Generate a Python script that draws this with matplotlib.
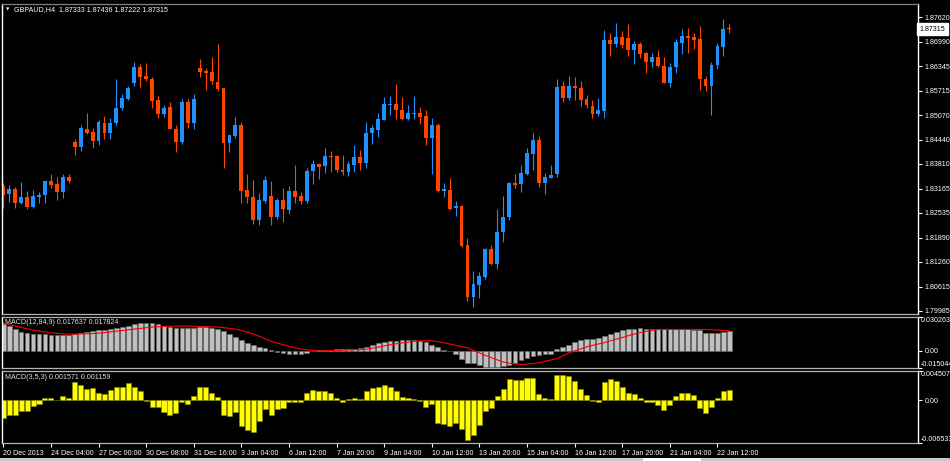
import matplotlib
matplotlib.use('Agg')
import matplotlib.pyplot as plt
import numpy as np
from matplotlib.patches import Rectangle

# GBPAUD H4 candles
opens = [1.8324, 1.8303, 1.8316, 1.8279, 1.8295, 1.8269, 1.8296, 1.8300, 1.8336, 1.8329,
         1.8309, 1.8348, 1.8437, 1.8426, 1.8472, 1.8463, 1.8441, 1.8488, 1.8460, 1.8488,
         1.8527, 1.8549, 1.8592, 1.8633, 1.8609, 1.8601, 1.8547, 1.8511, 1.8529, 1.8472,
         1.8437, 1.8543, 1.8488, 1.8629, 1.8622, 1.8620, 1.8594, 1.8577, 1.8436, 1.8453,
         1.8482, 1.8312, 1.8295, 1.8235, 1.8284, 1.8297, 1.8242, 1.8286, 1.8261, 1.8310,
         1.8297, 1.8284, 1.8362, 1.8381, 1.8376, 1.8402, 1.8401, 1.8366, 1.8360, 1.8379,
         1.8399, 1.8384, 1.8460, 1.8469, 1.8495, 1.8534, 1.8537, 1.8521, 1.8497, 1.8510,
         1.8512, 1.8505, 1.8449, 1.8482, 1.8311, 1.8313, 1.8266, 1.8272, 1.8170, 1.8034,
         1.8067, 1.8086, 1.8159, 1.8121, 1.8203, 1.8242, 1.8330, 1.8328, 1.8355, 1.8407,
         1.8444, 1.8332, 1.8345, 1.8354, 1.8583, 1.8553, 1.8583, 1.8578, 1.8549, 1.8532,
         1.8511, 1.8519, 1.8703, 1.8693, 1.8710, 1.8707, 1.8677, 1.8692, 1.8668, 1.8645,
         1.8659, 1.8635, 1.8592, 1.8633, 1.8696, 1.8713, 1.8711, 1.8705, 1.8602, 1.8584,
         1.8638, 1.8686, 1.87333]
highs = [1.8330, 1.8326, 1.8321, 1.8334, 1.8310, 1.8313, 1.8309, 1.8336, 1.8354, 1.8346,
         1.8354, 1.8354, 1.8445, 1.8482, 1.8512, 1.8475, 1.8495, 1.8505, 1.8499, 1.8602,
         1.8562, 1.8583, 1.8646, 1.8640, 1.8644, 1.8608, 1.8557, 1.8534, 1.8541, 1.8482,
         1.8550, 1.8549, 1.8563, 1.8653, 1.8629, 1.8659, 1.8693, 1.8579, 1.8456, 1.8503,
         1.8490, 1.8354, 1.8339, 1.8305, 1.8349, 1.8337, 1.8291, 1.8318, 1.8323, 1.8378,
         1.8308, 1.8369, 1.8391, 1.8384, 1.8423, 1.8415, 1.8404, 1.8404, 1.8388, 1.8430,
         1.8417, 1.8491, 1.8482, 1.8512, 1.8554, 1.8557, 1.8589, 1.8554, 1.8534, 1.8557,
         1.8528, 1.8521, 1.8500, 1.8486, 1.8330, 1.8343, 1.8284, 1.8273, 1.8189, 1.8102,
         1.8099, 1.8161, 1.8170, 1.8264, 1.8297, 1.8333, 1.8355, 1.8378, 1.8421, 1.8461,
         1.8453, 1.8356, 1.8378, 1.8601, 1.8596, 1.8609, 1.8607, 1.8596, 1.8560, 1.8547,
         1.8552, 1.8729, 1.8720, 1.8746, 1.8726, 1.8744, 1.8700, 1.8697, 1.8671, 1.8670,
         1.8677, 1.8658, 1.8642, 1.8705, 1.8732, 1.8733, 1.8722, 1.8739, 1.8610, 1.8645,
         1.8694, 1.8758, 1.87436]
lows = [1.8265, 1.8283, 1.8267, 1.8276, 1.8264, 1.8266, 1.8278, 1.8278, 1.8319, 1.8287,
        1.8293, 1.8332, 1.8405, 1.8414, 1.8458, 1.8423, 1.8429, 1.8445, 1.8446, 1.8482,
        1.8521, 1.8547, 1.8584, 1.8582, 1.8596, 1.8527, 1.8501, 1.8504, 1.8471, 1.8413,
        1.8433, 1.8473, 1.8472, 1.8608, 1.8573, 1.8589, 1.8571, 1.8371, 1.8413, 1.8449,
        1.8278, 1.8278, 1.8225, 1.8222, 1.8278, 1.8222, 1.8238, 1.8231, 1.8251, 1.8278,
        1.8277, 1.8280, 1.8329, 1.8342, 1.8358, 1.8360, 1.8361, 1.8352, 1.8349, 1.8361,
        1.8365, 1.8369, 1.8433, 1.8450, 1.8495, 1.8508, 1.8498, 1.8495, 1.8495, 1.8498,
        1.8485, 1.8430, 1.8354, 1.8307, 1.8294, 1.8261, 1.8246, 1.8166, 1.8025, 1.8010,
        1.8031, 1.8081, 1.8118, 1.8108, 1.8179, 1.8235, 1.8319, 1.8308, 1.8352, 1.8365,
        1.8322, 1.8302, 1.8343, 1.8348, 1.8543, 1.8547, 1.8547, 1.8531, 1.8525, 1.8501,
        1.8505, 1.8501, 1.8661, 1.8686, 1.8683, 1.8662, 1.8641, 1.8657, 1.8616, 1.8634,
        1.8634, 1.8592, 1.8582, 1.8616, 1.8666, 1.8668, 1.8680, 1.8573, 1.8570, 1.8508,
        1.8628, 1.8662, 1.87222]
closes = [1.8300, 1.8316, 1.8280, 1.8295, 1.8269, 1.8297, 1.8300, 1.8336, 1.8326, 1.8309,
          1.8348, 1.8336, 1.8426, 1.8473, 1.8462, 1.8441, 1.8489, 1.8460, 1.8488, 1.8526,
          1.8552, 1.8579, 1.8634, 1.8608, 1.8601, 1.8544, 1.8511, 1.8525, 1.8471, 1.8437,
          1.8543, 1.8488, 1.8550, 1.8621, 1.8618, 1.8596, 1.8576, 1.8436, 1.8456, 1.8482,
          1.8311, 1.8296, 1.8235, 1.8286, 1.8339, 1.8242, 1.8286, 1.8264, 1.8310, 1.8296,
          1.8284, 1.8362, 1.8381, 1.8373, 1.8401, 1.8399, 1.8365, 1.8360, 1.8381, 1.8398,
          1.8384, 1.8461, 1.8473, 1.8497, 1.8537, 1.8537, 1.8521, 1.8497, 1.8513, 1.8513,
          1.8504, 1.8449, 1.8481, 1.8310, 1.8316, 1.8264, 1.8271, 1.8167, 1.8034, 1.8069,
          1.8089, 1.8159, 1.8121, 1.8205, 1.8244, 1.8330, 1.8326, 1.8356, 1.8409, 1.8444,
          1.8332, 1.8346, 1.8353, 1.8580, 1.8553, 1.8583, 1.8578, 1.8547, 1.8534, 1.8511,
          1.8521, 1.8703, 1.8693, 1.8710, 1.8690, 1.8677, 1.8692, 1.8667, 1.8645, 1.8659,
          1.8635, 1.8592, 1.8633, 1.8698, 1.8713, 1.8707, 1.8703, 1.8602, 1.8584, 1.8638,
          1.8687, 1.8732, 1.87315]

# MACD(12,84,9): histogram and signal
macd_slow = [0.0235, 0.0217, 0.0190, 0.0169, 0.0157, 0.0149, 0.0149, 0.0146, 0.0140, 0.0140,
             0.0140, 0.0140, 0.0149, 0.0157, 0.0169, 0.0175, 0.0181, 0.0184, 0.0190, 0.0199,
             0.0208, 0.0223, 0.0238, 0.0244, 0.0247, 0.0244, 0.0235, 0.0223, 0.0211, 0.0205,
             0.0205, 0.0205, 0.0205, 0.0208, 0.0208, 0.0205, 0.0193, 0.0175, 0.0154, 0.0125,
             0.0098, 0.0071, 0.0050, 0.0039, 0.0024, 0.0009, -0.0009, -0.0021, -0.0024, -0.0024,
             -0.0024, -0.0015, 0.0001, 0.0009, 0.0012, 0.0012, 0.0015, 0.0015, 0.0018, 0.0021,
             0.0027, 0.0039, 0.0056, 0.0071, 0.0083, 0.0089, 0.0092, 0.0095, 0.0095, 0.0095,
             0.0089, 0.0077, 0.0056, 0.0033, 0.0012, -0.0002, -0.0030, -0.0068, -0.0104,
             -0.0104, -0.0128, -0.0143, -0.0143, -0.0143, -0.0137, -0.0122, -0.0104, -0.0083, -0.0062,
             -0.0045, -0.0033, -0.0030, -0.0030,
             0.0021, 0.0036, 0.0056, 0.0080, 0.0098, 0.0104, 0.0107, 0.0116, 0.0131, 0.0154,
             0.0169, 0.0184, 0.0190, 0.0196, 0.0199, 0.0193, 0.0190, 0.0190, 0.0190, 0.0190,
             0.0190, 0.0190, 0.0190, 0.0187, 0.0181, 0.0163, 0.0163, 0.0163, 0.0169, 0.017637]
signal_slow = [0.0244, 0.0232, 0.0220, 0.0208, 0.0196, 0.0184, 0.0176, 0.0168, 0.0161, 0.0155,
               0.0151, 0.0149, 0.0149, 0.0150, 0.0152, 0.0154, 0.0157, 0.0162, 0.0168, 0.0175,
               0.0181, 0.0187, 0.0193, 0.0199, 0.0205, 0.0211, 0.0214, 0.0217, 0.0219, 0.0220,
               0.0220, 0.0220, 0.0219, 0.0217, 0.0215, 0.0213, 0.0211, 0.0206, 0.0200, 0.0193,
               0.0180, 0.0166, 0.0151, 0.0130, 0.0108, 0.0086, 0.0070, 0.0055, 0.0041, 0.0029,
               0.0018, 0.0010, 0.0004, 0.0000, 0.0001, 0.0003, 0.0005, 0.0007, 0.0009, 0.0011,
               0.0013, 0.0015, 0.0024, 0.0034, 0.0045, 0.0054, 0.0063, 0.0071, 0.0078, 0.0084,
               0.0089, 0.0090, 0.0089, 0.0082, 0.0072, 0.0062, 0.0050, 0.0039, 0.0027, 0.0005,
               -0.0017, -0.0039, -0.0059, -0.0079, -0.0098, -0.0107, -0.0114, -0.0119, -0.0116, -0.0110,
               -0.0104, -0.0092, -0.0080, -0.0068, -0.0043, -0.0018, 0.0000, 0.0018, 0.0036, 0.0049,
               0.0062, 0.0074, 0.0089, 0.0104, 0.0119, 0.0134, 0.0149, 0.0163, 0.0172, 0.0181,
               0.0190, 0.0190, 0.0190, 0.0190, 0.0190, 0.0190, 0.0190, 0.0190, 0.0189, 0.0187,
               0.0185, 0.0182, 0.017824]

# MACD(3,5,3) histogram
macd_fast = [-0.0027, -0.0022, -0.0023, -0.0016, -0.0016, -0.0009, -0.0005, 0.0004, 0.0004, 0.0001,
             0.0006, 0.0004, 0.0028, 0.0024, 0.0017, 0.0019, 0.0011, 0.0010, 0.0016, 0.0020,
             0.0021, 0.0027, 0.0021, 0.0015, -0.0001, -0.0010, -0.0010, -0.0018, -0.0022, -0.0020,
             -0.0002, -0.0005, 0.0006, 0.0021, 0.0021, 0.0012, 0.0005, -0.0023, -0.0024, -0.0018,
             -0.0040, -0.0045, -0.0048, -0.0032, -0.0013, -0.0022, -0.0013, -0.0012, -0.0003, -0.0002,
             -0.0002, 0.0011, 0.0016, 0.0015, 0.0015, 0.0012, 0.0003, -0.0002, 0.0002, 0.0003,
             0.0002, 0.0015, 0.0019, 0.0021, 0.0024, 0.0021, 0.0015, 0.0005, 0.0004, 0.0002,
             -0.0001, -0.0010, -0.0005, -0.0034, -0.0036, -0.0039, -0.0034, -0.0044, -0.0061,
             -0.0053, -0.0038, -0.0016, -0.0011, 0.0006, 0.0018, 0.0033, 0.0032, 0.0032, 0.0034,
             0.0035, 0.0010, 0.0003, 0.0002, 0.0039, 0.0039, 0.0038, 0.0030, 0.0018, 0.0008,
             -0.0001, -0.0002, 0.0028, 0.0033, 0.0029, 0.0021, 0.0012, 0.0010, 0.0003, -0.0003,
             -0.0003, -0.0007, -0.0014, -0.0007, 0.0006, 0.0012, 0.0011, 0.0008, -0.0011, -0.0020,
             -0.0010, 0.0004, 0.0015, 0.001571]

price_ticks = [1.87620, 1.86990, 1.86345, 1.85715, 1.85070, 1.84440, 1.83810,
               1.83165, 1.82535, 1.81890, 1.81260, 1.80615, 1.79985]
date_labels = ['20 Dec 2013', '24 Dec 04:00', '27 Dec 00:00', '30 Dec 08:00', '31 Dec 16:00',
               '3 Jan 04:00', '6 Jan 12:00', '7 Jan 20:00', '9 Jan 04:00', '10 Jan 12:00',
               '13 Jan 20:00', '15 Jan 04:00', '16 Jan 12:00', '17 Jan 20:00', '21 Jan 04:00',
               '22 Jan 12:00']
date_pos = list(range(0, 121, 8))
slow_range = (-0.015044, 0.030263)
fast_range = (-0.006533, 0.004507)

plt.rcParams['font.family'] = ['Liberation Sans', 'DejaVu Sans']
FS = 5.1

W, H = 950, 461
def box(x0, y0, x1, y1):
    return [x0 / W, 1 - y1 / H, (x1 - x0) / W, (y1 - y0) / H]

fig = plt.figure(figsize=(9.5, 4.61), dpi=100, facecolor='black')
ax = fig.add_axes(box(2, 4, 918, 314))
ax1 = fig.add_axes(box(2, 316.7, 918, 368), sharex=ax)
ax2 = fig.add_axes(box(2, 371, 918, 443), sharex=ax)

o = np.array(opens); h = np.array(highs); l = np.array(lows); c = np.array(closes)
x = np.arange(len(o))
cols = np.where(c >= o, '#1E90FF', '#FF4500')

# candles
ax.vlines(x, l, h, colors=cols, lw=0.8)
ax.bar(x, np.maximum(np.abs(c - o), 0.00006), bottom=np.minimum(o, c),
       width=0.65, color=cols, lw=0)
ax.set_ylim(1.79906, 1.87966)
ax.set_xlim(-0.22, 153.7)
ax.set_yticks(price_ticks)
ax.set_yticklabels(['%.5f' % p for p in price_ticks])
ax.text(0.013, 0.981, 'GBPAUD,H4  1.87333 1.87436 1.87222 1.87315', transform=ax.transAxes,
        color='white', fontsize=FS, va='center', ha='left')
ax.text(0.004, 0.981, '\u25BC', transform=ax.transAxes, color='white', fontsize=3.2,
        va='center', ha='left', family='DejaVu Sans')
ax.text(1.0018, closes[-1], '%.5f' % closes[-1], transform=ax.get_yaxis_transform(),
        color='black', fontsize=FS, va='center', ha='left', clip_on=False,
        bbox=dict(facecolor='white', edgecolor='white', pad=1.6))

# MACD(12,84,9)
ax1.bar(x, macd_slow, width=0.78, color='#C0C0C0', edgecolor='#707070', lw=0.4)
ax1.plot(x, signal_slow, color='#FF0000', lw=0.8)
ax1.set_ylim(*slow_range)
ax1.text(0.003, 0.96, 'MACD(12,84,9) 0.017637 0.017824', transform=ax1.transAxes,
         color='#E0E0E0', fontsize=FS, va='top', ha='left', zorder=5)

# MACD(3,5,3)
ax2.bar(x, macd_fast, width=0.85, color='#FFFF00', edgecolor='#8C8C00', lw=0.4)
ax2.set_ylim(*fast_range)
ax2.text(0.003, 0.96, 'MACD(3,5,3) 0.001571 0.001159', transform=ax2.transAxes,
         color='#E0E0E0', fontsize=FS, va='top', ha='left', zorder=5)

# indicator scales: max at top edge, zero, min at bottom edge
for a, (lo, hi) in ((ax1, slow_range), (ax2, fast_range)):
    a.set_yticks([hi, 0.0, lo])
    a.set_yticklabels(['', '0.00', ''])
    tr = a.get_yaxis_transform()
    a.text(1.003, hi, '%.6f' % hi, transform=tr, color='white', fontsize=FS,
           va='top', ha='left', clip_on=False)
    a.text(1.003, lo, '%.6f' % lo, transform=tr, color='white', fontsize=FS,
           va='bottom', ha='left', clip_on=False)

for a in (ax, ax1, ax2):
    a.set_facecolor('black')
    a.tick_params(axis='y', left=False, right=True, labelleft=False, labelright=True,
                  colors='white', length=3, width=0.8, pad=2, labelsize=FS)
    a.tick_params(axis='x', bottom=False, labelbottom=False)
    for s in ('left', 'right'):
        a.spines[s].set_color('white')
        a.spines[s].set_linewidth(1)
    for s in ('top', 'bottom'):
        a.spines[s].set_color('#B4B4B4')
        a.spines[s].set_linewidth(0.9)
ax.spines['top'].set_color('#808080')

ax2.set_xticks(date_pos)
ax2.set_xticklabels(date_labels)
ax2.tick_params(axis='x', bottom=True, labelbottom=True, colors='white', length=3,
                width=0.8, pad=2, labelsize=FS)
for t in ax2.get_xticklabels():
    t.set_horizontalalignment('left')

# bottom tab strip
fig.patches.append(Rectangle((0, 0), 1, 3 / H, transform=fig.transFigure,
                             facecolor='#C8C8C8', edgecolor='none'))
fig.patches.append(Rectangle((643 / W, 0), 58 / W, 3 / H, transform=fig.transFigure,
                             facecolor='white', edgecolor='none'))

fig.savefig('out.png', dpi=100, facecolor='black')
